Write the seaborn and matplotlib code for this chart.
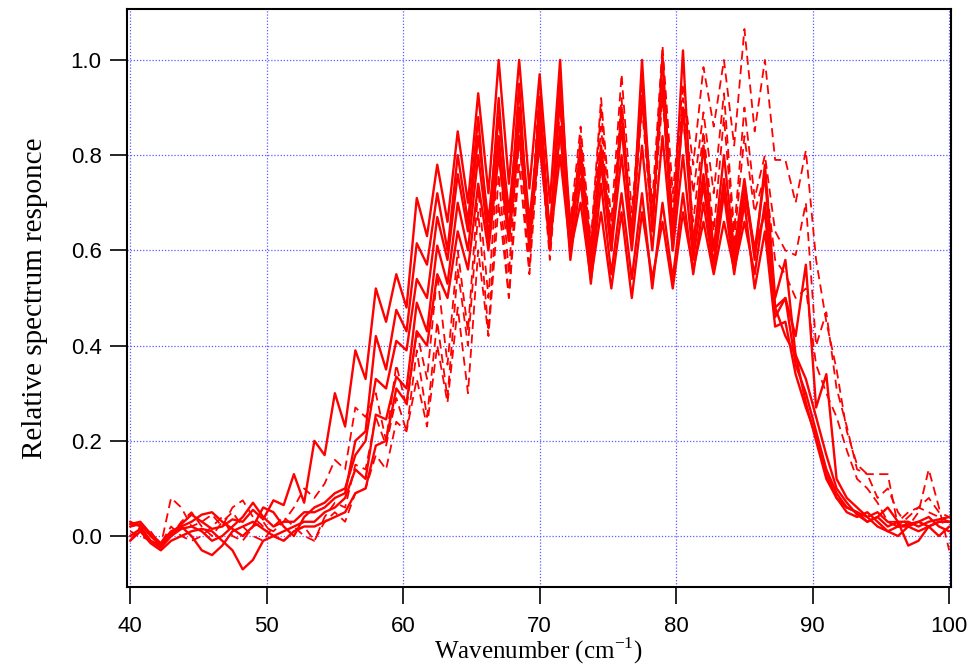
import matplotlib
matplotlib.use("Agg")
import matplotlib.pyplot as plt
import seaborn as sns
import pandas as pd

# sampling grid (cm^-1)
wavenumber = [40.00, 40.75, 41.50, 42.25, 43.00, 43.75, 44.50, 45.25, 46.00, 46.75,
              47.50, 48.25, 49.00, 49.75, 50.50, 51.25, 52.00, 52.75, 53.50, 54.25,
              55.00, 55.75, 56.50, 57.25, 58.00, 58.75, 59.50, 60.25, 61.00, 61.75,
              62.50, 63.25, 64.00, 64.75, 65.50, 66.25, 67.00, 67.75, 68.50, 69.25,
              70.00, 70.75, 71.50, 72.25, 73.00, 73.75, 74.50, 75.25, 76.00, 76.75,
              77.50, 78.25, 79.00, 79.75, 80.50, 81.25, 82.00, 82.75, 83.50, 84.25,
              85.00, 85.75, 86.50, 87.25, 88.00, 88.75, 89.50, 90.25, 91.00, 91.75,
              92.50, 93.25, 94.00, 94.75, 95.50, 96.25, 97.00, 97.75, 98.50, 99.25,
              100.00]

# solid traces
solid_1 = [0.02, 0.025, 0.0, -0.02, 0.005, 0.025, 0.045, 0.03, 0.015, 0.02,
           0.035, 0.03, 0.055, 0.035, 0.075, 0.065, 0.13, 0.07, 0.20, 0.17,
           0.30, 0.23, 0.39, 0.33, 0.52, 0.45, 0.55, 0.48, 0.71, 0.63,
           0.78, 0.66, 0.85, 0.70, 0.93, 0.72, 1.0, 0.74, 1.0, 0.73,
           0.97, 0.70, 1.0, 0.60, 0.82, 0.55, 0.80, 0.60, 0.90, 0.62,
           1.0, 0.64, 1.01, 0.63, 1.02, 0.60, 0.82, 0.60, 0.80, 0.60,
           0.75, 0.58, 0.78, 0.50, 0.58, 0.38, 0.33, 0.25, 0.17, 0.10,
           0.07, 0.045, 0.03, 0.04, 0.02, 0.03, 0.03, 0.02, 0.03, 0.035,
           0.04]
solid_2 = [0.03, 0.02, -0.01, -0.025, 0.0, 0.015, 0.02, 0.01, -0.01, 0.0,
           0.02, 0.04, 0.07, 0.04, 0.02, 0.03, 0.03, 0.05, 0.05, 0.06,
           0.08, 0.09, 0.20, 0.22, 0.42, 0.35, 0.475, 0.43, 0.615, 0.57,
           0.72, 0.60, 0.80, 0.66, 0.88, 0.62, 0.92, 0.63, 0.95, 0.60,
           0.92, 0.62, 0.96, 0.65, 0.80, 0.60, 0.82, 0.62, 0.86, 0.63,
           0.92, 0.66, 0.95, 0.60, 0.90, 0.62, 0.76, 0.60, 0.74, 0.57,
           0.72, 0.60, 0.68, 0.46, 0.50, 0.36, 0.30, 0.22, 0.14, 0.09,
           0.06, 0.05, 0.04, 0.02, 0.01, 0.02, 0.025, 0.03, 0.02, 0.03,
           0.03]
solid_3 = [0.0, 0.015, -0.01, -0.02, 0.0, 0.02, 0.0, -0.03, -0.04, -0.02,
           0.01, 0.02, 0.03, 0.015, 0.0, 0.01, 0.02, 0.03, 0.03, 0.05,
           0.06, 0.08, 0.14, 0.12, 0.255, 0.245, 0.335, 0.31, 0.49, 0.43,
           0.61, 0.53, 0.70, 0.60, 0.80, 0.62, 0.84, 0.62, 0.88, 0.62,
           0.85, 0.60, 0.86, 0.58, 0.75, 0.53, 0.74, 0.55, 0.72, 0.54,
           0.72, 0.52, 0.70, 0.54, 0.72, 0.55, 0.70, 0.56, 0.72, 0.55,
           0.70, 0.52, 0.64, 0.44, 0.45, 0.34, 0.27, 0.21, 0.13, 0.08,
           0.05, 0.04, 0.05, 0.03, 0.01, 0.0, 0.02, 0.03, 0.04, 0.02,
           0.01]
solid_4 = [-0.01, 0.01, -0.015, -0.03, -0.01, 0.0, 0.01, 0.015, 0.01, -0.01,
           -0.03, -0.07, -0.05, -0.01, 0.0, -0.01, 0.01, 0.02, 0.02, 0.03,
           0.04, 0.05, 0.09, 0.10, 0.19, 0.20, 0.31, 0.28, 0.43, 0.40,
           0.55, 0.50, 0.64, 0.56, 0.74, 0.60, 0.80, 0.62, 0.84, 0.64,
           0.82, 0.62, 0.80, 0.60, 0.70, 0.54, 0.68, 0.52, 0.68, 0.50,
           0.68, 0.54, 0.66, 0.52, 0.68, 0.56, 0.66, 0.55, 0.66, 0.56,
           0.66, 0.55, 0.70, 0.48, 0.42, 0.38, 0.28, 0.20, 0.12, 0.08,
           0.06, 0.05, 0.03, 0.04, 0.06, 0.03, -0.02, -0.01, 0.02, 0.0,
           0.02]
solid_5 = [0.025, 0.03, 0.005, -0.015, 0.01, 0.02, 0.03, 0.045, 0.05, 0.03,
           0.015, 0.0, 0.02, 0.06, 0.05, 0.02, 0.0, 0.04, 0.06, 0.07,
           0.09, 0.10, 0.17, 0.20, 0.33, 0.31, 0.41, 0.39, 0.54, 0.50,
           0.67, 0.58, 0.76, 0.64, 0.84, 0.66, 0.88, 0.68, 0.90, 0.66,
           0.88, 0.64, 0.92, 0.62, 0.78, 0.58, 0.78, 0.60, 0.80, 0.60,
           0.82, 0.60, 0.84, 0.60, 0.80, 0.58, 0.74, 0.57, 0.75, 0.58,
           0.74, 0.60, 0.76, 0.48, 0.50, 0.42, 0.57, 0.27, 0.34, 0.12,
           0.08, 0.06, 0.04, 0.05, 0.03, 0.02, 0.02, 0.01, 0.02, 0.03,
           0.03]

# dashed traces
dashed_1 = [0.01, 0.0, -0.01, -0.02, 0.08, 0.06, 0.02, 0.03, 0.045, 0.02,
            0.06, 0.075, 0.04, 0.02, 0.01, 0.03, 0.06, 0.10, 0.08, 0.11,
            0.16, 0.14, 0.27, 0.25, 0.30, 0.20, 0.36, 0.27, 0.43, 0.33,
            0.55, 0.36, 0.60, 0.43, 0.73, 0.50, 0.82, 0.55, 0.88, 0.60,
            0.95, 0.62, 0.90, 0.66, 0.86, 0.62, 0.92, 0.66, 0.97, 0.68,
            0.94, 0.70, 1.03, 0.72, 0.95, 0.78, 0.985, 0.86, 1.0, 0.82,
            1.065, 0.85, 1.0, 0.79, 0.79, 0.70, 0.81, 0.58, 0.45, 0.35,
            0.22, 0.15, 0.13, 0.08, 0.10, 0.05, 0.02, 0.05, 0.14, 0.06,
            -0.03]
dashed_2 = [-0.01, 0.02, 0.01, -0.02, 0.0, 0.03, 0.05, 0.02, 0.0, 0.03,
            0.05, 0.02, 0.0, -0.01, 0.02, 0.04, 0.02, 0.0, -0.01, 0.04,
            0.07, 0.06, 0.15, 0.14, 0.25, 0.19, 0.29, 0.22, 0.39, 0.25,
            0.45, 0.29, 0.56, 0.40, 0.68, 0.43, 0.76, 0.50, 0.84, 0.56,
            0.90, 0.60, 0.94, 0.62, 0.84, 0.60, 0.90, 0.62, 0.92, 0.64,
            0.96, 0.66, 0.98, 0.68, 0.92, 0.72, 0.89, 0.72, 0.93, 0.64,
            0.90, 0.71, 0.80, 0.64, 0.60, 0.59, 0.70, 0.40, 0.47, 0.31,
            0.23, 0.14, 0.13, 0.13, 0.13, 0.02, 0.04, 0.06, 0.05, 0.04,
            0.03]
dashed_3 = [0.02, 0.03, 0.0, -0.015, 0.02, 0.0, -0.01, 0.0, 0.02, 0.04,
            0.0, -0.01, 0.02, 0.03, 0.0, -0.01, 0.01, 0.02, -0.01, 0.03,
            0.05, 0.03, 0.09, 0.10, 0.17, 0.14, 0.24, 0.22, 0.33, 0.23,
            0.40, 0.28, 0.48, 0.30, 0.60, 0.42, 0.70, 0.50, 0.78, 0.55,
            0.84, 0.58, 0.85, 0.60, 0.80, 0.57, 0.86, 0.60, 0.88, 0.62,
            0.90, 0.64, 0.92, 0.64, 0.88, 0.66, 0.85, 0.64, 0.88, 0.62,
            0.84, 0.68, 0.76, 0.58, 0.55, 0.50, 0.52, 0.36, 0.30, 0.25,
            0.18, 0.12, 0.10, 0.07, 0.03, 0.03, 0.05, 0.06, 0.08, 0.05,
            0.04]

solid_traces = [solid_1, solid_2, solid_3, solid_4, solid_5]
dashed_traces = [dashed_1, dashed_2, dashed_3]

sns.set_style("ticks")
plt.rcParams["font.family"] = ["Liberation Sans", "DejaVu Sans"]

fig = plt.figure(figsize=(9.67, 6.68), dpi=100)
ax = fig.add_axes([0.131, 0.122, 0.852, 0.8645])

for vals in solid_traces:
    sns.lineplot(x=wavenumber, y=vals, ax=ax, color="red", linewidth=1.7,
                 sort=False, estimator=None)
for vals in dashed_traces:
    sns.lineplot(x=wavenumber, y=vals, ax=ax, color="red", linewidth=1.3,
                 linestyle=(0, (5, 3)), sort=False, estimator=None)

ax.set_xlim(39.75, 100.1)
ax.set_ylim(-0.106, 1.107)
ax.set_xticks([40, 50, 60, 70, 80, 90, 100])
ax.set_yticks([0.0, 0.2, 0.4, 0.6, 0.8, 1.0])
ax.set_yticklabels(["0.0", "0.2", "0.4", "0.6", "0.8", "1.0"])

ax.set_axisbelow(True)
ax.grid(True, color="#5c5cff", linestyle=(0, (1, 1.5)), linewidth=0.9)

for s in ax.spines.values():
    s.set_linewidth(1.5)
    s.set_color("black")
ax.tick_params(axis="both", direction="out", length=12, width=1.2,
               color="black", labelcolor="black")
ax.tick_params(axis="y", labelsize=16, pad=6)
ax.tick_params(axis="x", labelsize=16, pad=9)

ax.set_xlabel("Wavenumber (cm$^{\\mathregular{-1}}$)", family="Liberation Serif",
              fontsize=18, labelpad=-1, color="black")
ax.set_ylabel("Relative spectrum responce", family="Liberation Serif",
              fontsize=21, labelpad=16, color="black")

fig.savefig("out.png", dpi=100)
